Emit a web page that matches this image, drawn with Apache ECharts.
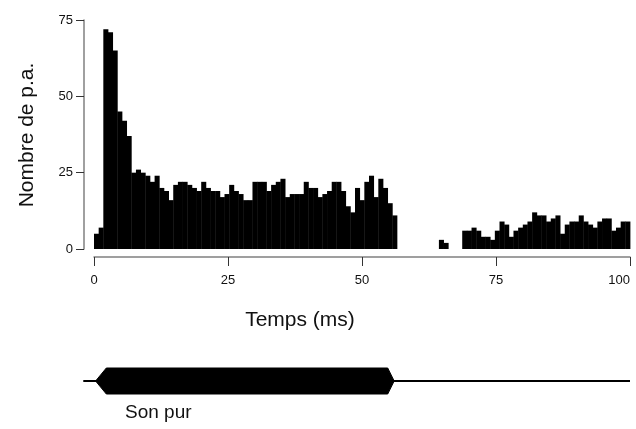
<!DOCTYPE html>
<html>
<head>
<meta charset="utf-8">
<script src="https://cdn.jsdelivr.net/npm/echarts@6/dist/echarts.min.js"></script>
<style>
html,body{margin:0;padding:0;background:#fff;}
#chart{width:636px;height:429px;}
</style>
</head>
<body>
<div id="chart"></div>
<script>
// ---- data ----
var xTicks = [0, 25, 50, 75, 100];
var yTicks = [0, 25, 50, 75];
var binCount = 115;          // histogram bins across 0-100 ms
var binWidthMs = 100 / binCount;
// spike counts per bin (Nombre de p.a.)
var counts = [
  5, 7, 72, 71, 65, 45, 42, 37, 25, 26, 25, 24, 22, 24, 20, 19, 16, 21, 22, 22,
  21, 20, 19, 22, 20, 19, 19, 17, 18, 21, 19, 18, 16, 16, 22, 22, 22, 19, 21, 22,
  23, 17, 18, 18, 18, 22, 20, 20, 17, 18, 19, 22, 22, 19, 14, 12, 20, 16, 22, 24,
  17, 23, 20, 15, 11,
  0, 0, 0, 0, 0, 0, 0, 0, 0,
  3, 2,
  0, 0, 0,
  6, 6, 7, 6, 4, 4, 3, 6, 9, 8, 4, 6, 7, 8, 9, 12, 11, 11, 9, 10,
  11, 5, 8, 9, 9, 11, 9, 8, 7, 9, 10, 10, 6, 7, 9, 9
];
// stimulus (Son pur) envelope, ms: onset, plateau start, plateau end, offset
var stimulus = [0.3, 2.3, 54.8, 56.0];
var stimLine = [-2, 100];

var FONT = '"Liberation Sans", Arial, Helvetica, sans-serif';

var barData = counts.map(function (v, i) { return [i, v]; });

var chart = echarts.init(document.getElementById('chart'), null, {renderer: 'canvas'});
chart.setOption({
  animation: false,
  backgroundColor: '#ffffff',
  grid: [
    {left: 94, right: 6, top: 20, bottom: 180, containLabel: false, outerBoundsMode: 'none'},
    {left: 94, right: 6, top: 368, height: 26, containLabel: false, outerBoundsMode: 'none'}
  ],
  xAxis: [
    {
      type: 'value', gridIndex: 0, min: 0, max: 100, interval: 25,
      offset: 8,
      axisLine: {show: true, onZero: false, lineStyle: {color: '#808080', width: 1.5}},
      axisTick: {show: true, length: 9, lineStyle: {color: '#333', width: 1}},
      axisLabel: {show: true, margin: 17, color: '#111', fontSize: 13, fontFamily: FONT, alignMaxLabel: 'right'},
      splitLine: {show: false}
    },
    {
      type: 'value', gridIndex: 1, min: 0, max: 100, show: false
    }
  ],
  yAxis: [
    {
      type: 'value', gridIndex: 0, min: 0, max: 75, interval: 25,
      offset: 10,
      axisLine: {show: true, onZero: false, lineStyle: {color: '#808080', width: 1.5}},
      axisTick: {show: true, length: 8, lineStyle: {color: '#333', width: 1}},
      axisLabel: {show: true, margin: 11, color: '#111', fontSize: 13, fontFamily: FONT},
      splitLine: {show: false}
    },
    {
      type: 'value', gridIndex: 1, min: -1, max: 1, show: false
    }
  ],
  series: [
    {
      type: 'custom',
      xAxisIndex: 0, yAxisIndex: 0,
      data: barData,
      renderItem: function (params, api) {
        var i = api.value(0), v = api.value(1);
        if (!v) return null;
        var x0 = i * binWidthMs, x1 = (i + 1) * binWidthMs;
        var p0 = api.coord([x0, v]);
        var p1 = api.coord([x1, 0]);
        return {
          type: 'rect',
          shape: {x: p0[0], y: p0[1], width: p1[0] - p0[0] + 0.4, height: p1[1] - p0[1]},
          style: {fill: '#000'}
        };
      }
    },
    {
      type: 'custom',
      xAxisIndex: 1, yAxisIndex: 1,
      clip: false,
      data: [[0]],
      renderItem: function (params, api) {
        var a = api.coord([stimulus[0], 0]);
        var b = api.coord([stimulus[1], 1]);
        var c = api.coord([stimulus[2], 1]);
        var d = api.coord([stimulus[3], 0]);
        var e = api.coord([stimulus[2], -1]);
        var f = api.coord([stimulus[1], -1]);
        var l0 = api.coord([stimLine[0], 0]);
        var l1 = api.coord([stimLine[1], 0]);
        return {
          type: 'group',
          children: [
            {type: 'line', shape: {x1: l0[0], y1: l0[1], x2: l1[0], y2: l1[1]},
             style: {stroke: '#000', lineWidth: 2}},
            {type: 'polygon', shape: {points: [a, b, c, d, e, f]},
             style: {fill: '#000', stroke: '#000', lineWidth: 1}}
          ]
        };
      }
    }
  ],
  graphic: [
    {type: 'text', x: 300, y: 320,
     style: {text: 'Temps (ms)', font: '21px ' + FONT, fill: '#111', textAlign: 'center', textVerticalAlign: 'middle'}},
    {type: 'text', x: 27, y: 135, rotation: Math.PI / 2,
     style: {text: 'Nombre de p.a.', font: '21px ' + FONT, fill: '#111', textAlign: 'center', textVerticalAlign: 'middle'}},
    {type: 'text', x: 125, y: 413,
     style: {text: 'Son pur', font: '19px ' + FONT, fill: '#111', textAlign: 'left', textVerticalAlign: 'middle'}}
  ]
});
</script>
</body>
</html>
